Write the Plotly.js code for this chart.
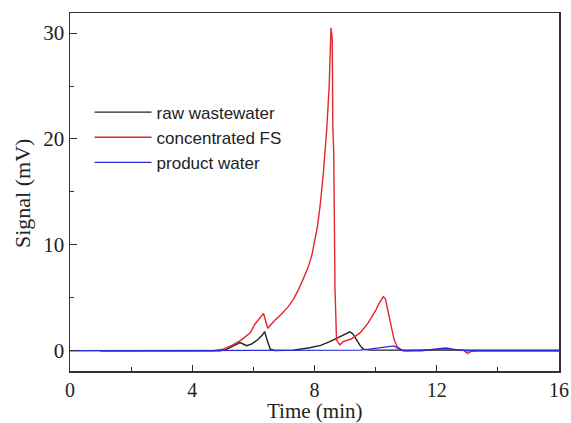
<!DOCTYPE html>
<html>
<head>
<meta charset="utf-8">
<script src="https://cdn.plot.ly/plotly-3.0.1.min.js"></script>
<style>html,body{margin:0;padding:0;background:#fff;}#chart{width:571px;height:423px;}</style>
</head>
<body>
<div id="chart"></div>
<script>
// raw wastewater
const rawTime = [1.0, 4.9, 5.1, 5.3, 5.45, 5.56, 5.68, 5.78, 5.95, 6.15, 6.3, 6.37, 6.45, 6.55, 6.7, 7.3, 7.8, 8.2, 8.5, 8.7, 8.9, 9.05, 9.16, 9.25, 9.38, 9.5, 9.6, 9.8, 12.0, 16.0];
const rawSignal = [0, 0, 0.1, 0.35, 0.6, 0.76, 0.6, 0.47, 0.65, 1.05, 1.5, 1.8, 1.0, 0.15, 0.02, 0.05, 0.25, 0.5, 0.85, 1.15, 1.45, 1.65, 1.78, 1.6, 1.0, 0.45, 0.15, 0.05, 0.05, 0.05];

// concentrated FS
const fsTime = [1.0, 4.7, 5.0, 5.3, 5.6, 5.9, 6.05, 6.2, 6.33, 6.47, 6.71, 6.9, 7.14, 7.3, 7.47, 7.65, 7.8, 7.92, 8.02, 8.1, 8.18, 8.29, 8.4, 8.48, 8.54, 8.58, 8.6, 8.63, 8.67, 8.72, 8.83, 8.94, 9.2, 9.5, 9.75, 9.9, 10.0, 10.1, 10.25, 10.32, 10.4, 10.5, 10.6, 10.7, 10.85, 11.0, 11.6, 12.2, 12.7, 12.9, 13.0, 13.15, 13.3, 16.0];
const fsSignal = [0, 0, 0.15, 0.5, 1.0, 1.7, 2.5, 3.0, 3.53, 2.12, 2.9, 3.4, 4.16, 4.8, 5.74, 6.9, 7.94, 9.1, 10.46, 11.8, 13.6, 16.8, 20.9, 24.95, 30.5, 29.4, 21.0, 18.7, 6.0, 1.0, 0.55, 0.85, 1.1, 1.7, 2.6, 3.3, 3.8, 4.4, 5.1, 4.9, 3.8, 2.3, 1.1, 0.4, 0.05, 0, 0.1, 0.15, 0.1, 0, -0.25, -0.05, 0, 0];

// product water
const pwTime = [0, 9.0, 9.5, 9.8, 10.1, 10.4, 10.6, 10.75, 10.9, 11.5, 12.0, 12.3, 12.6, 13.0, 16.0];
const pwSignal = [0, 0, 0.05, 0.15, 0.25, 0.4, 0.45, 0.2, 0, 0, 0.15, 0.25, 0.1, 0, 0];

const seriesNames = ["raw wastewater", "concentrated FS", "product water"];
const xTickVals = [0, 4, 8, 12, 16];
const yTickVals = [0, 10, 20, 30];
const xTitle = 'Time (min)';
const yTitle = 'Signal (mV)';

const traces = [
  {x: rawTime, y: rawSignal, name: seriesNames[0], mode: 'lines', line: {color: '#222222', width: 1.4}},
  {x: fsTime, y: fsSignal, name: seriesNames[1], mode: 'lines', line: {color: '#e3262b', width: 1.4}},
  {x: pwTime, y: pwSignal, name: seriesNames[2], mode: 'lines', line: {color: '#2b2bd8', width: 1.4}}
];

const serif = 'Liberation Serif, Times New Roman, serif';
const axisCommon = {
  showline: true, mirror: true, linecolor: '#333', linewidth: 1.5,
  showgrid: false, zeroline: false, ticks: 'inside', tickcolor: '#333'
};

const layout = {
  width: 571, height: 423,
  margin: {l: 70, r: 12, t: 13, b: 52},
  paper_bgcolor: '#fff', plot_bgcolor: '#fff',
  showlegend: true,
  legend: {
    x: 0.04, y: 0.772, xanchor: 'left', yanchor: 'top',
    bgcolor: 'rgba(0,0,0,0)', borderwidth: 0,
    font: {family: 'Liberation Sans, Arial, sans-serif', size: 17, color: '#222'},
    itemwidth: 57, tracegroupgap: 0
  },
  xaxis: Object.assign({}, axisCommon, {
    range: [0, 16], tickvals: xTickVals, ticktext: xTickVals.map(String), ticklen: 6,
    tickfont: {family: serif, size: 20, color: '#222'},
    minor: {dtick: 2, tick0: 0, ticks: 'inside', ticklen: 4, tickcolor: '#333', showgrid: false}
  }),
  yaxis: Object.assign({}, axisCommon, {
    range: [-1.92, 31.9], tickvals: yTickVals, ticktext: yTickVals.map(String), ticklen: 7,
    tickfont: {family: serif, size: 21, color: '#222'},
    minor: {dtick: 5, tick0: 0, ticks: 'inside', ticklen: 4, tickcolor: '#333', showgrid: false}
  }),
  annotations: [
    {text: xTitle, xref: 'paper', yref: 'paper', x: 0.5, y: 0, xanchor: 'center', yanchor: 'middle',
     yshift: -40, showarrow: false, font: {family: serif, size: 21, color: '#222'}},
    {text: yTitle, xref: 'paper', yref: 'paper', x: 0, y: 0.5, xanchor: 'center', yanchor: 'middle',
     xshift: -48, yshift: -2, textangle: -90, showarrow: false, font: {family: serif, size: 22, color: '#222'}}
  ]
};

Plotly.newPlot('chart', traces, layout, {displayModeBar: false, staticPlot: true});
</script>
</body>
</html>
